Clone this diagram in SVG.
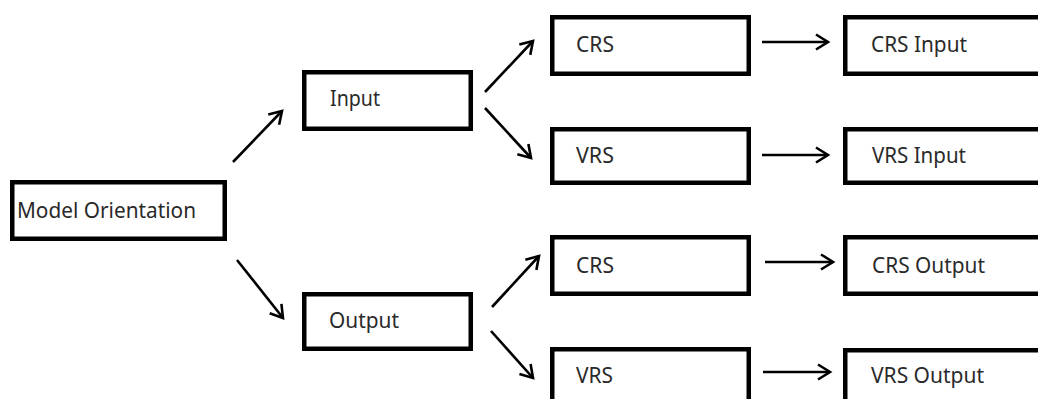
<svg xmlns="http://www.w3.org/2000/svg" width="1038" height="399" viewBox="0 0 1038 399">
  <defs>
    <marker id="head" viewBox="0 0 18 18" refX="15" refY="9" markerWidth="18" markerHeight="18" markerUnits="userSpaceOnUse" orient="auto">
      <path d="M3,1.5 L15,9 L3,16.5" fill="none" stroke="#000" stroke-width="2.6" stroke-linejoin="miter"/>
    </marker>
    <style>
      .box { fill: #fff; stroke: #000; stroke-width: 4.5; }
      .lbl { font-family: "Noto Sans", "Open Sans", sans-serif; font-size: 22px; fill: #2a2a2a; }
      .link { stroke: #000; stroke-width: 2.6; fill: none; marker-end: url(#head); }
    </style>
  </defs>
  <rect width="1038" height="399" fill="#fff"/>

  <g id="connectors">
    <line class="link" x1="233" y1="162" x2="282" y2="111"/>
    <line class="link" x1="237" y1="260" x2="283" y2="318"/>
    <line class="link" x1="485" y1="92" x2="533" y2="41"/>
    <line class="link" x1="485" y1="108" x2="531" y2="158"/>
    <line class="link" x1="492" y1="307" x2="539" y2="256"/>
    <line class="link" x1="491" y1="331" x2="533" y2="378"/>
    <line class="link" x1="762" y1="42" x2="828" y2="42"/>
    <line class="link" x1="762" y1="155" x2="828" y2="155"/>
    <line class="link" x1="765" y1="262" x2="833" y2="262"/>
    <line class="link" x1="763" y1="372" x2="830" y2="372"/>
  </g>

  <g id="model-orientation">
    <rect class="box" x="12.25" y="182.25" width="212.5" height="56.5"/>
    <text class="lbl" x="17" y="218" textLength="179" lengthAdjust="spacingAndGlyphs">Model Orientation</text>
  </g>
  <g id="input">
    <rect class="box" x="304.25" y="72.25" width="166.5" height="56.5"/>
    <text class="lbl" x="330" y="106" textLength="50" lengthAdjust="spacingAndGlyphs">Input</text>
  </g>
  <g id="output">
    <rect class="box" x="304.25" y="294.25" width="166.5" height="54.5"/>
    <text class="lbl" x="329" y="328" textLength="70" lengthAdjust="spacingAndGlyphs">Output</text>
  </g>
  <g id="crs-in">
    <rect class="box" x="552.25" y="17.25" width="196.5" height="56.5"/>
    <text class="lbl" x="576" y="52" textLength="38" lengthAdjust="spacingAndGlyphs">CRS</text>
  </g>
  <g id="vrs-in">
    <rect class="box" x="552.25" y="129.25" width="196.5" height="53.5"/>
    <text class="lbl" x="576" y="163" textLength="38" lengthAdjust="spacingAndGlyphs">VRS</text>
  </g>
  <g id="crs-out">
    <rect class="box" x="552.25" y="237.25" width="196.5" height="56.5"/>
    <text class="lbl" x="576" y="273" textLength="38" lengthAdjust="spacingAndGlyphs">CRS</text>
  </g>
  <g id="vrs-out">
    <rect class="box" x="552.25" y="349.25" width="196.5" height="60"/>
    <text class="lbl" x="576" y="383" textLength="37" lengthAdjust="spacingAndGlyphs">VRS</text>
  </g>
  <g id="crs-input">
    <rect class="box" x="845.25" y="17.25" width="210" height="56.5"/>
    <text class="lbl" x="871" y="52" textLength="96" lengthAdjust="spacingAndGlyphs">CRS Input</text>
  </g>
  <g id="vrs-input">
    <rect class="box" x="845.25" y="129.25" width="210" height="53.5"/>
    <text class="lbl" x="872" y="163" textLength="94" lengthAdjust="spacingAndGlyphs">VRS Input</text>
  </g>
  <g id="crs-output">
    <rect class="box" x="845.25" y="237.25" width="210" height="56.5"/>
    <text class="lbl" x="872" y="273" textLength="113" lengthAdjust="spacingAndGlyphs">CRS Output</text>
  </g>
  <g id="vrs-output">
    <rect class="box" x="845.25" y="350.25" width="210" height="60"/>
    <text class="lbl" x="871" y="383" textLength="113" lengthAdjust="spacingAndGlyphs">VRS Output</text>
  </g>
</svg>
